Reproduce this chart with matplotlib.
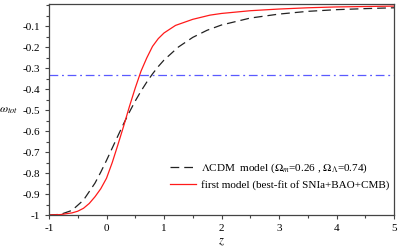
import matplotlib
matplotlib.use('Agg')
import matplotlib.pyplot as plt
from matplotlib.ticker import MultipleLocator

plt.rcParams['font.family'] = 'Liberation Serif'
plt.rcParams['mathtext.fontset'] = 'stix'

# LCDM curve
z_lcdm = [-1, -0.8, -0.6, -0.4, -0.2, -0.1, 0, 0.1, 0.2, 0.3, 0.4, 0.5, 0.6, 0.7, 0.8, 0.9,
          1.0, 1.25, 1.5, 1.75, 2, 2.5, 3, 3.5, 4, 4.5, 5]
w_lcdm = [-1, -0.997, -0.978, -0.929, -0.848, -0.796, -0.740, -0.681, -0.622, -0.564, -0.509,
          -0.457, -0.410, -0.367, -0.328, -0.293, -0.262, -0.200, -0.154, -0.120, -0.095,
          -0.062, -0.043, -0.030, -0.022, -0.017, -0.013]

# first model curve
z_first = [-1, -0.8, -0.6, -0.5, -0.4, -0.3, -0.2, -0.1, 0, 0.1, 0.2, 0.3, 0.4, 0.5, 0.6,
           0.7, 0.8, 0.9, 1.0, 1.2, 1.5, 1.8, 2, 2.5, 3, 3.5, 4, 4.5, 5]
w_first = [-1, -0.998, -0.99, -0.982, -0.968, -0.945, -0.913, -0.875, -0.825, -0.75, -0.664,
           -0.575, -0.482, -0.395, -0.315, -0.252, -0.197, -0.16, -0.133, -0.097, -0.068,
           -0.048, -0.040, -0.027, -0.019, -0.013, -0.009, -0.007, -0.005]

w_line = -1/3

fig = plt.figure(figsize=(3.99, 2.47), dpi=100)
ax = fig.add_axes([49/399, 1 - 215/247, 345/399, 211/247])

ax.plot(z_lcdm, w_lcdm, color='#222222', lw=0.9, dashes=(7, 4),
        label=r'$\Lambda$CDM  model ($\Omega_{m}$=0.26 , $\Omega_{\Lambda}$=0.74)')
ax.plot(z_first, w_first, color='#ff1a1a', lw=0.9,
        label='first model (best-fit of SNIa+BAO+CMB)')
ax.axhline(w_line, color='#5a5aff', lw=0.9, dashes=(7, 3, 1.5, 3))

ax.set_xlim(-1, 5)
ax.set_ylim(-1, 0.005)
ax.xaxis.set_minor_locator(MultipleLocator(0.5))
ax.yaxis.set_minor_locator(MultipleLocator(0.05))
ax.set_yticks([-1, -0.9, -0.8, -0.7, -0.6, -0.5, -0.4, -0.3, -0.2, -0.1])
ax.set_yticklabels(['-1', '-0.9', '-0.8', '-0.7', '-0.6', '-0.5', '-0.4', '-0.3', '-0.2', '-0.1'])
ax.set_xticks([-1, 0, 1, 2, 3, 4, 5])
ax.set_xticklabels(['-1', '0', '1', '2', '3', '4', '5'])
ax.tick_params(which='both', direction='out', labelsize=8, color='#444444', width=0.8)
ax.tick_params(which='major', length=3)
ax.tick_params(which='minor', length=2)
for s in ax.spines.values():
    s.set_color('#444444')
    s.set_linewidth(0.9)

ax.set_xlabel(r'$z$', fontsize=9, labelpad=2)
ax.set_ylabel(r'$\omega_{tot}$', fontsize=8.5, rotation=0, ha='center', va='center')
ax.yaxis.set_label_coords(-0.118, 0.5)

ax.legend(loc='lower right', bbox_to_anchor=(1.0, 0.096), frameon=False, fontsize=8,
          handlelength=2.3, handletextpad=0.5, labelspacing=0.5, borderaxespad=0.0)

fig.savefig('out.png', dpi=100)
